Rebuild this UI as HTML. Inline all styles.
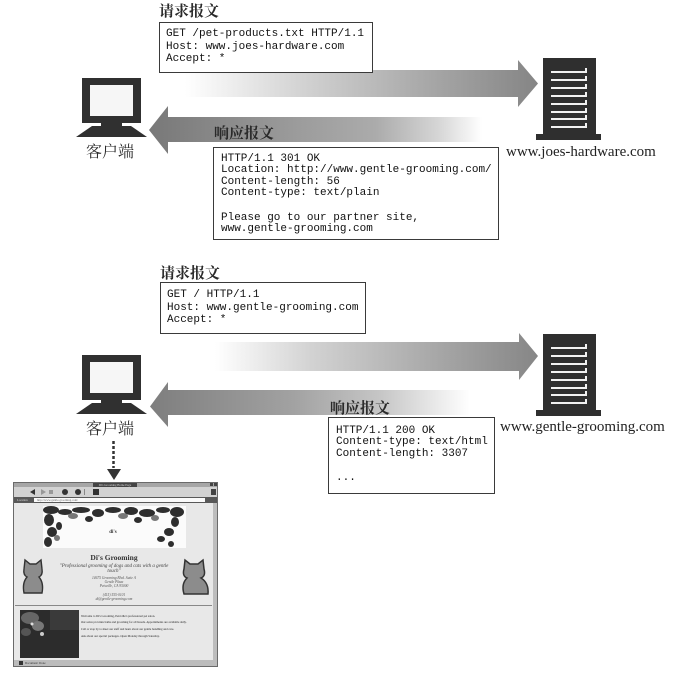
<!DOCTYPE html>
<html><head><meta charset="utf-8">
<style>
html,body{margin:0;padding:0;background:#fff;}
body{width:684px;height:676px;position:relative;overflow:hidden;}
.box{position:absolute;border:1px solid #3a3a3a;background:#fff;box-sizing:border-box;}
.mono{position:absolute;font-family:"Liberation Mono",monospace;font-size:11px;color:#111;white-space:pre;}
.lab{position:absolute;font-family:"Liberation Serif","Noto Serif CJK SC",serif;font-weight:bold;font-size:15px;line-height:15px;letter-spacing:0px;color:#2a2a2a;white-space:nowrap;}
.cli{position:absolute;font-family:"Liberation Serif","Noto Serif CJK SC",serif;font-size:16px;line-height:16px;color:#2a2a2a;white-space:nowrap;}
.srv{position:absolute;font-family:"Liberation Serif",serif;font-size:15px;line-height:15px;color:#222;white-space:nowrap;}
.sp{height:14px;}
</style></head>
<body>
<svg width="684" height="676" style="position:absolute;left:0;top:0">
<defs>
<linearGradient id="gR1" gradientUnits="userSpaceOnUse" x1="185" y1="0" x2="538" y2="0">
 <stop offset="0" stop-color="#ffffff"/>
 <stop offset="0.32" stop-color="#d4d4d4"/>
 <stop offset="0.64" stop-color="#adadad"/>
 <stop offset="1" stop-color="#858585"/>
</linearGradient>
<linearGradient id="gL1" gradientUnits="userSpaceOnUse" x1="149" y1="0" x2="482" y2="0">
 <stop offset="0" stop-color="#787878"/>
 <stop offset="0.45" stop-color="#9c9c9c"/>
 <stop offset="0.68" stop-color="#ababab"/>
 <stop offset="0.87" stop-color="#d6d6d6"/>
 <stop offset="1" stop-color="#ffffff"/>
</linearGradient>
<linearGradient id="gR2" gradientUnits="userSpaceOnUse" x1="215" y1="0" x2="538" y2="0">
 <stop offset="0" stop-color="#ffffff"/>
 <stop offset="0.3" stop-color="#d2d2d2"/>
 <stop offset="0.65" stop-color="#ababab"/>
 <stop offset="1" stop-color="#868686"/>
</linearGradient>
<linearGradient id="gL2" gradientUnits="userSpaceOnUse" x1="150" y1="0" x2="470" y2="0">
 <stop offset="0" stop-color="#7e7e7e"/>
 <stop offset="0.45" stop-color="#a2a2a2"/>
 <stop offset="0.72" stop-color="#c6c6c6"/>
 <stop offset="1" stop-color="#ffffff"/>
</linearGradient>
<g id="comp">
 <rect x="82" y="78" width="59" height="45" fill="#303030"/>
 <rect x="90" y="85" width="43" height="31" fill="#f6f6f6"/>
 <rect x="101" y="123" width="21" height="4" fill="#303030"/>
 <polygon points="92,126 131,126 147,137 76,137" fill="#303030"/>
</g>
<g id="serv">
 <rect x="543" y="58" width="53" height="77" fill="#2f2f2f"/>
 <rect x="536" y="134" width="65" height="6" fill="#2f2f2f"/>
 <g fill="#f2f2f2">
  <rect x="551" y="71" width="35" height="2"/><rect x="585" y="68" width="2" height="5"/>
  <rect x="551" y="79" width="35" height="2"/><rect x="585" y="76" width="2" height="5"/>
  <rect x="551" y="87" width="35" height="2"/><rect x="585" y="84" width="2" height="5"/>
  <rect x="551" y="95" width="35" height="2"/><rect x="585" y="92" width="2" height="5"/>
  <rect x="551" y="103" width="35" height="2"/><rect x="585" y="100" width="2" height="5"/>
  <rect x="551" y="111" width="35" height="2"/><rect x="585" y="108" width="2" height="5"/>
  <rect x="551" y="118" width="35" height="2"/><rect x="585" y="115" width="2" height="5"/>
  <rect x="551" y="126" width="35" height="2"/><rect x="585" y="123" width="2" height="5"/>
 </g>
</g>
</defs>
<polygon points="185,70 518,70 518,60 538,83.5 518,107 518,97 185,97" fill="url(#gR1)"/>
<polygon points="149,130 168,106 168,117 482,117 482,142 168,142 168,154" fill="url(#gL1)"/>
<polygon points="215,342 519,342 519,333 538,356 519,380 519,371 215,371" fill="url(#gR2)"/>
<polygon points="150,406.5 168,382 168,390 470,390 470,415 168,415 168,427" fill="url(#gL2)"/>
<use href="#comp"/>
<use href="#comp" transform="translate(0,277)"/>
<use href="#serv"/>
<use href="#serv" transform="translate(0,276)"/>
<line x1="113.5" y1="441" x2="113.5" y2="468" stroke="#333" stroke-width="2.5" stroke-dasharray="3,2"/>
<polygon points="107,469 121,469 114,480" fill="#333"/>
</svg>

<div class="lab" style="left:159px;top:5px;">请求报文</div>
<div class="box" style="left:159px;top:22px;width:214px;height:51px;">
 <div class="mono" style="left:6px;top:5px;line-height:12.5px;">GET /pet-products.txt HTTP/1.1
Host: www.joes-hardware.com
Accept: *</div>
</div>
<div class="cli" style="left:86px;top:144.5px;">客户端</div>
<div class="lab" style="left:214px;top:126.5px;">响应报文</div>
<div class="box" style="left:213px;top:147px;width:286px;height:93px;">
 <div class="mono" style="left:7px;top:6px;line-height:11.3px;"><div>HTTP/1.1 301 OK
Location: http://www.gentle-grooming.com/
Content-length: 56
Content-type: text/plain</div><div class="sp"></div><div>Please go to our partner site,
www.gentle-grooming.com</div></div>
</div>
<div class="srv" style="left:506px;top:145px;">www.joes-hardware.com</div>

<div class="lab" style="left:160px;top:266.5px;">请求报文</div>
<div class="box" style="left:160px;top:282px;width:206px;height:52px;">
 <div class="mono" style="left:6px;top:6px;line-height:12.7px;">GET / HTTP/1.1
Host: www.gentle-grooming.com
Accept: *</div>
</div>
<div class="cli" style="left:86px;top:421.5px;">客户端</div>
<div class="lab" style="left:330px;top:401.5px;">响应报文</div>
<div class="box" style="left:328px;top:417px;width:167px;height:77px;">
 <div class="mono" style="left:7px;top:8px;line-height:11.3px;"><div>HTTP/1.1 200 OK
Content-type: text/html
Content-length: 3307</div><div style="height:13px"></div><div>...</div></div>
</div>
<div class="srv" style="left:500px;top:420px;">www.gentle-grooming.com</div>

<div style="position:absolute;left:13px;top:482px;width:205px;height:185px;background:#e8e8e8;border:1px solid #6a6a6a;box-sizing:border-box;overflow:hidden;font-family:'Liberation Serif',serif;">
 <div style="position:absolute;left:0;top:0;width:203px;height:4px;background:#a6a6a6;"></div>
 <div style="position:absolute;left:79px;top:0;width:44px;height:4px;background:#444;color:#ddd;font-size:3px;line-height:4px;text-align:center;overflow:hidden;">Di's Grooming Home Page</div>
 <div style="position:absolute;left:196px;top:0;width:3px;height:3px;background:#444;"></div>
 <div style="position:absolute;left:200px;top:0;width:3px;height:3px;background:#444;"></div>
 <div style="position:absolute;left:0;top:4px;width:203px;height:10px;background:#d2d2d2;"></div>
 <svg style="position:absolute;left:0;top:4px" width="203" height="10">
  <polygon points="16,5 21,2 21,8" fill="#333"/>
  <polygon points="32,5 27,2 27,8" fill="#999"/>
  <rect x="35" y="3" width="4" height="4" fill="#999"/>
  <circle cx="51" cy="5" r="3" fill="#333"/>
  <circle cx="64" cy="5" r="3" fill="#333"/>
  <rect x="70" y="2" width="1" height="6" fill="#888"/>
  <rect x="79" y="2" width="6" height="6" fill="#333"/>
  <rect x="197" y="2" width="5" height="6" fill="#444"/>
 </svg>
 <div style="position:absolute;left:0;top:14px;width:203px;height:6px;background:#585858;"></div>
 <div style="position:absolute;left:3px;top:15px;width:14px;height:4px;color:#ddd;font-size:3px;line-height:4px;">Location</div>
 <div style="position:absolute;left:20px;top:15px;width:171px;height:4px;background:#fafafa;color:#666;font-size:3px;line-height:4px;padding-left:3px;box-sizing:border-box;">http://www.gentle-grooming.com/</div>
 <div style="position:absolute;left:199px;top:20px;width:4px;height:157px;background:#bdbdbd;"></div>
 <div style="position:absolute;left:29px;top:23px;width:143px;height:42px;background:#fbfbfb;"></div>
 <svg style="position:absolute;left:29px;top:23px" width="143" height="42">
  <g fill="#2e2e2e">
   <ellipse cx="8" cy="4" rx="8" ry="4"/><ellipse cx="22" cy="6" rx="7" ry="3"/>
   <ellipse cx="38" cy="4" rx="9" ry="3"/><ellipse cx="55" cy="7" rx="6" ry="4"/>
   <ellipse cx="70" cy="4" rx="8" ry="3"/><ellipse cx="88" cy="5" rx="7" ry="4"/>
   <ellipse cx="104" cy="7" rx="8" ry="4"/><ellipse cx="120" cy="4" rx="7" ry="3"/>
   <ellipse cx="134" cy="6" rx="7" ry="5"/>
   <ellipse cx="6" cy="14" rx="5" ry="6"/><ellipse cx="9" cy="26" rx="5" ry="5"/>
   <ellipse cx="5" cy="36" rx="4" ry="5"/><ellipse cx="16" cy="20" rx="3" ry="4"/>
   <ellipse cx="132" cy="16" rx="4" ry="5"/><ellipse cx="126" cy="26" rx="5" ry="4"/>
   <ellipse cx="118" cy="33" rx="4" ry="3"/><ellipse cx="128" cy="38" rx="3" ry="3"/>
   <ellipse cx="95" cy="14" rx="4" ry="3"/><ellipse cx="46" cy="13" rx="4" ry="3"/>
  </g>
  <g fill="#777">
   <ellipse cx="30" cy="10" rx="5" ry="3"/><ellipse cx="80" cy="10" rx="5" ry="3"/>
   <ellipse cx="112" cy="12" rx="4" ry="3"/><ellipse cx="14" cy="32" rx="3" ry="3"/>
  </g>
 </svg>
 <div style="position:absolute;left:89px;top:47px;width:20px;text-align:center;font-size:5px;line-height:5px;color:#333;font-weight:bold;">di's</div>
 <div style="position:absolute;left:40px;top:71px;width:120px;text-align:center;font-size:7.5px;line-height:8px;color:#333;font-weight:bold;">Di's Grooming</div>
 <div style="position:absolute;left:44px;top:81px;width:112px;text-align:center;font-size:5px;line-height:5px;color:#444;font-style:italic;">"Professional grooming of dogs and cats with a gentle touch"</div>
 <div style="position:absolute;left:60px;top:93px;width:80px;text-align:center;font-size:3.6px;line-height:4.2px;color:#555;font-style:italic;">14675 Grooming Blvd. Suite A<br>Gentle Plaza<br>Petsville, CA 95000</div>
 <div style="position:absolute;left:60px;top:110px;width:80px;text-align:center;font-size:3.6px;line-height:4.2px;color:#555;font-style:italic;">(415) 555-0101<br>di@gentle-grooming.com</div>
 <svg style="position:absolute;left:7px;top:75px" width="24" height="37">
  <path d="M3,11 L4,2 L9,6 L15,6 L20,2 L21,11 Q22,17 18,19 Q23,25 21,35 L3,35 Q1,25 6,19 Q2,17 3,11 Z" fill="#8c8c8c" stroke="#333" stroke-width="1.4"/>
 </svg>
 <svg style="position:absolute;left:165px;top:75px" width="32" height="39">
  <path d="M5,11 L6,2 L11,6 L19,6 L24,2 L25,11 Q27,18 22,20 Q30,25 29,36 L5,36 Q2,26 8,20 Q3,18 5,11 Z" fill="#8c8c8c" stroke="#333" stroke-width="1.5"/>
 </svg>
 <div style="position:absolute;left:1px;top:122px;width:197px;height:1px;background:#888;"></div>
 <svg style="position:absolute;left:6px;top:127px" width="59" height="48">
  <rect width="59" height="48" fill="#2c2c2c"/>
  <ellipse cx="10" cy="8" rx="9" ry="6" fill="#666"/>
  <ellipse cx="18" cy="16" rx="6" ry="5" fill="#777"/>
  <ellipse cx="6" cy="22" rx="5" ry="4" fill="#555"/>
  <circle cx="22" cy="24" r="2" fill="#ccc"/>
  <circle cx="12" cy="14" r="1.5" fill="#ddd"/>
  <rect x="30" y="0" width="29" height="20" fill="#3a3a3a"/>
 </svg>
 <div style="position:absolute;left:67px;top:131px;width:124px;font-size:3px;line-height:4px;color:#222;">
  <div>Welcome to Di's Grooming, Petsville's professional pet salon.</div>
  <div style="margin-top:2px">Our salon provides baths and grooming for all breeds. Appointments are available daily.</div>
  <div style="margin-top:3px">Call or stop by to meet our staff and learn about our gentle handling and care.</div>
  <div style="margin-top:3px">Ask about our special packages. Open Monday through Saturday.</div>
 </div>
 <div style="position:absolute;left:0;top:177px;width:203px;height:6px;background:#bcbcbc;"></div>
 <div style="position:absolute;left:5px;top:178px;width:4px;height:4px;background:#333;"></div>
 <div style="position:absolute;left:11px;top:178px;font-size:3px;line-height:4px;color:#333;">Document: Done</div>
</div>
</body></html>
